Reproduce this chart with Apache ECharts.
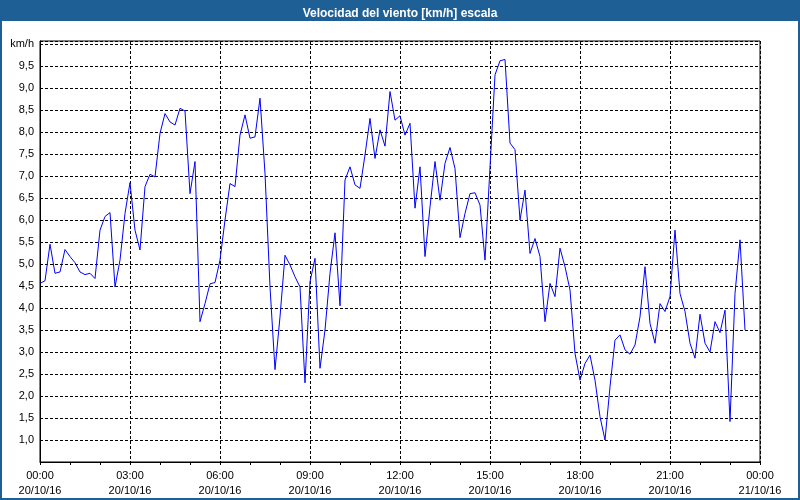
<!DOCTYPE html>
<html>
<head>
<meta charset="utf-8">
<script src="https://cdn.jsdelivr.net/npm/echarts@6/dist/echarts.min.js"></script>
<style>
html,body{margin:0;padding:0;background:#fff;}
#chart{width:800px;height:500px;}
</style>
</head>
<body>
<div id="chart"></div>
<script>
// Wind speed (km/h), 10-minute samples, 20/10/16 00:00 .. 23:30
const speed00to04 = [4.56, 4.62, 5.45, 4.79, 4.82, 5.33,
                     5.17, 5.03, 4.82, 4.76, 4.79, 4.67,
                     5.77, 6.08, 6.17, 4.48, 5.09, 6.15,
                     6.85, 5.77, 5.32, 6.76, 7.04, 6.98];
const speed04to08 = [7.97, 8.42, 8.23, 8.16, 8.54, 8.48,
                     6.60, 7.33, 3.69, 4.10, 4.55, 4.58,
                     5.09, 6.00, 6.83, 6.76, 7.93, 8.39,
                     7.86, 7.89, 8.77, 7.06, 4.48, 2.60];
const speed08to12 = [3.80, 5.20, 4.98, 4.71, 4.48, 2.30,
                     4.60, 5.13, 2.63, 3.50, 4.79, 5.71,
                     4.05, 6.91, 7.21, 6.80, 6.72, 7.48,
                     8.31, 7.40, 8.05, 7.68, 8.92, 8.27];
const speed12to16 = [8.37, 7.93, 8.20, 6.27, 7.21, 5.17,
                     6.30, 7.33, 6.45, 7.29, 7.65, 7.17,
                     5.60, 6.15, 6.60, 6.62, 6.34, 5.09,
                     7.20, 9.30, 9.62, 9.65, 7.75, 7.60];
const speed16to20 = [6.00, 6.68, 5.24, 5.58, 5.17, 3.69,
                     4.56, 4.26, 5.36, 4.94, 4.41, 2.97,
                     2.36, 2.74, 2.93, 2.36, 1.53, 1.00,
                     2.21, 3.27, 3.39, 3.05, 2.95, 3.16];
const speed20to24 = [3.80, 4.94, 3.65, 3.20, 4.10, 3.92,
                     4.26, 5.77, 4.33, 3.92, 3.20, 2.86,
                     3.86, 3.20, 3.00, 3.69, 3.44, 3.95,
                     1.42, 4.33, 5.55, 3.50];

const sampleStepMinutes = 10;
const xTickHours = ['00:00','03:00','06:00','09:00','12:00','15:00','18:00','21:00','00:00'];
const xTickDates = ['20/10/16','20/10/16','20/10/16','20/10/16','20/10/16','20/10/16','20/10/16','20/10/16','21/10/16'];
const yUnitLabel = 'km/h';
const titleText = 'Velocidad del viento [km/h] escala';

const speeds = [].concat(speed00to04, speed04to08, speed08to12, speed12to16, speed16to20, speed20to24);
const seriesData = speeds.map((v, i) => [i * sampleStepMinutes, v]);

const FONT = 'Liberation Sans';
const chart = echarts.init(document.getElementById('chart'), null, {renderer: 'canvas'});
chart.setOption({
  animation: false,
  backgroundColor: '#ffffff',
  graphic: [
    {type: 'rect', z: 0, shape: {x: 0, y: 0, width: 800, height: 21}, style: {fill: '#1e5f95'}},
    {type: 'rect', z: 0, shape: {x: 1, y: 1, width: 798, height: 498}, style: {fill: 'transparent', stroke: '#1e5f95', lineWidth: 2}}
  ],
  title: {
    text: titleText,
    left: 'center',
    top: 3,
    z: 10,
    textStyle: {color: '#ffffff', fontSize: 12, fontWeight: 'bold', fontFamily: FONT}
  },
  grid: {
    left: 40, right: 40, top: 41, bottom: 38,
    show: true, borderColor: '#000', borderWidth: 1, backgroundColor: 'transparent'
  },
  xAxis: {
    type: 'value',
    min: 0, max: 1440, interval: 180,
    axisLine: {show: true, lineStyle: {color: '#000', width: 1}},
    axisTick: {show: true, length: 3, lineStyle: {color: '#000'}},
    minorTick: {show: true, splitNumber: 3, length: 3, lineStyle: {color: '#000'}},
    splitLine: {show: true, lineStyle: {color: '#000', type: [3, 2], width: 1}},
    axisLabel: {
      show: true, margin: 6, color: '#000', fontSize: 11, fontFamily: FONT, lineHeight: 15,
      showMinLabel: true, showMaxLabel: true,
      formatter: function (v) {
        const k = Math.round(v / 180);
        return xTickHours[k] + '\n' + xTickDates[k];
      }
    }
  },
  yAxis: {
    type: 'value',
    min: 0.5, max: 10.07, interval: 0.5,
    axisLine: {show: true, lineStyle: {color: '#000', width: 1}},
    axisTick: {show: false},
    splitLine: {show: true, lineStyle: {color: '#000', type: [3, 2], width: 1}},
    axisLabel: {
      show: true, margin: 6, color: '#000', fontSize: 11, fontFamily: FONT,
      showMinLabel: false, showMaxLabel: false,
      formatter: function (v) {
        if (Math.abs(v - 10) < 1e-6) return yUnitLabel;
        return v.toFixed(1).replace('.', ',');
      }
    }
  },
  series: [{
    type: 'line',
    data: seriesData,
    showSymbol: false,
    symbol: 'none',
    smooth: false,
    lineStyle: {color: '#0000ff', width: 1},
    z: 5
  }]
});
</script>
</body>
</html>
